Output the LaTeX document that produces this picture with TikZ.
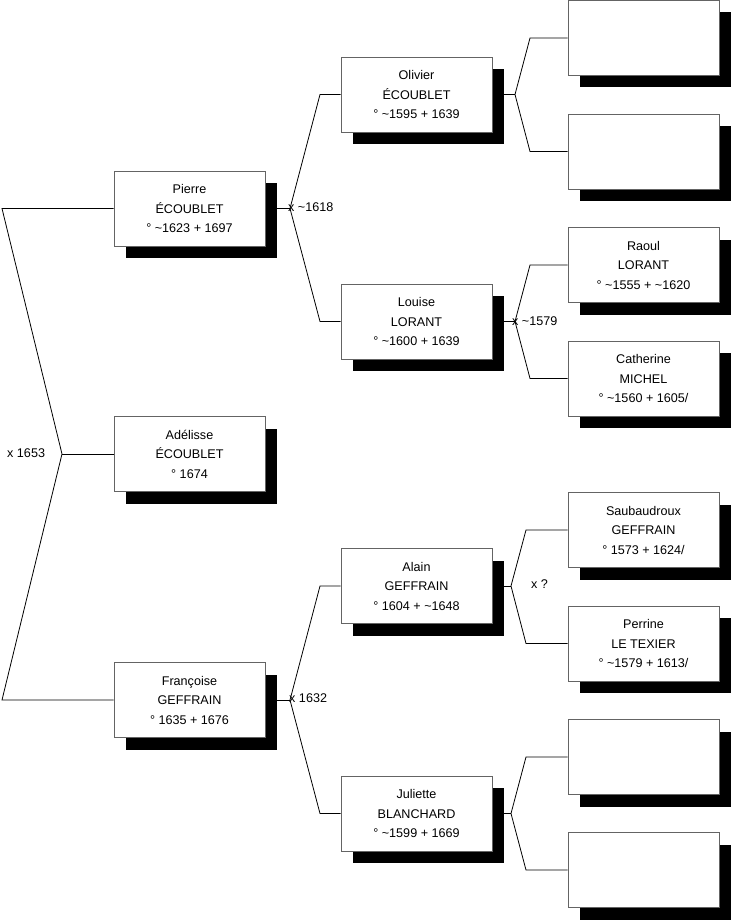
\documentclass[tikz,border=0pt]{standalone}
\usepackage{fontspec}
\setmainfont{Liberation Sans}
\usetikzlibrary{shadows,backgrounds}
\definecolor{boxgray}{RGB}{100,100,100}
\begin{document}
\begin{tikzpicture}[x=1pt,y=-1pt,
  person/.style={draw=boxgray, fill=white, line width=0.8pt,
    minimum width=151pt, minimum height=75pt, inner sep=0pt, align=center,
    font=\fontsize{12.6}{19.5}\selectfont,
    drop shadow={shadow xshift=11.5pt, shadow yshift=-12pt, fill=black, opacity=1}},
  link/.style={draw=black, line width=0.8pt},
  lbl/.style={font=\fontsize{12.6}{14}\selectfont, inner sep=0pt, anchor=west}]
\useasboundingbox (0,0) rectangle (731,920);
% column 1
\node[person] (pierre) at (189.5,208.5) {Pierre\\ÉCOUBLET\\° \textasciitilde1623 + 1697};
\node[person] (adelisse) at (189.5,454) {Adélisse\\ÉCOUBLET\\° 1674};
\node[person] (francoise) at (189.5,700) {Françoise\\GEFFRAIN\\° 1635 + 1676};
% column 2
\node[person] (olivier) at (416.5,94.5) {Olivier\\ÉCOUBLET\\° \textasciitilde1595 + 1639};
\node[person] (louise) at (416.5,321.5) {Louise\\LORANT\\° \textasciitilde1600 + 1639};
\node[person] (alain) at (416.5,586) {Alain\\GEFFRAIN\\° 1604 + \textasciitilde1648};
\node[person] (juliette) at (416.5,813.5) {Juliette\\BLANCHARD\\° \textasciitilde1599 + 1669};
% column 3
\node[person] (e1) at (643.5,38) {};
\node[person] (e2) at (643.5,151.5) {};
\node[person] (raoul) at (643.5,265) {Raoul\\LORANT\\° \textasciitilde1555 + \textasciitilde1620};
\node[person] (catherine) at (643.5,378.5) {Catherine\\MICHEL\\° \textasciitilde1560 + 1605/};
\node[person] (saubaudroux) at (643.5,530) {Saubaudroux\\GEFFRAIN\\° 1573 + 1624/};
\node[person] (perrine) at (643.5,643.5) {Perrine\\LE TEXIER\\° \textasciitilde1579 + 1613/};
\node[person] (e7) at (643.5,757) {};
\node[person] (e8) at (643.5,870) {};
% labels
\node[lbl] (l1653) at (7,453) {x 1653};
\node[lbl] (l1618) at (288,207) {x \textasciitilde1618};
\node[lbl] (l1632) at (289,698) {x 1632};
\node[lbl] (l1579) at (512,321) {x \textasciitilde1579};
\node[lbl] (lq) at (531,584) {x ?};
% connectors
\begin{scope}[on background layer]
  \coordinate (L) at (2,0);
  \coordinate (root) at (62,454);
  \draw[link] (pierre.west) -- (pierre.west -| L) -- (root) -- (francoise.west -| L) -- (francoise.west);
  \draw[link] (root) -- (adelisse.west);
  % Pierre fork
  \coordinate (va) at (290,208.5);
  \coordinate (ha) at (320,0);
  \draw[link] (pierre.east) -- (va);
  \draw[link] (olivier.west) -- (olivier.west -| ha) -- (va) -- (louise.west -| ha) -- (louise.west);
  % Francoise fork
  \coordinate (vb) at (290,700);
  \draw[link] (francoise.east) -- (vb);
  \draw[link] (alain.west) -- (alain.west -| ha) -- (vb) -- (juliette.west -| ha) -- (juliette.west);
  % Olivier fork
  \coordinate (hc) at (530,0);
  \coordinate (vc) at (515,94.5);
  \draw[link] (olivier.east) -- (vc);
  \draw[link] (e1.west) -- (e1.west -| hc) -- (vc) -- (e2.west -| hc) -- (e2.west);
  % Louise fork
  \coordinate (vd) at (515,321.5);
  \draw[link] (louise.east) -- (vd);
  \draw[link] (raoul.west) -- (raoul.west -| hc) -- (vd) -- (catherine.west -| hc) -- (catherine.west);
  % Alain fork
  \coordinate (hd) at (526,0);
  \coordinate (ve) at (511,586);
  \draw[link] (alain.east) -- (ve);
  \draw[link] (saubaudroux.west) -- (saubaudroux.west -| hd) -- (ve) -- (perrine.west -| hd) -- (perrine.west);
  % Juliette fork
  \coordinate (vf) at (511,813.5);
  \draw[link] (juliette.east) -- (vf);
  \draw[link] (e7.west) -- (e7.west -| hd) -- (vf) -- (e8.west -| hd) -- (e8.west);
\end{scope}
\end{tikzpicture}
\end{document}
